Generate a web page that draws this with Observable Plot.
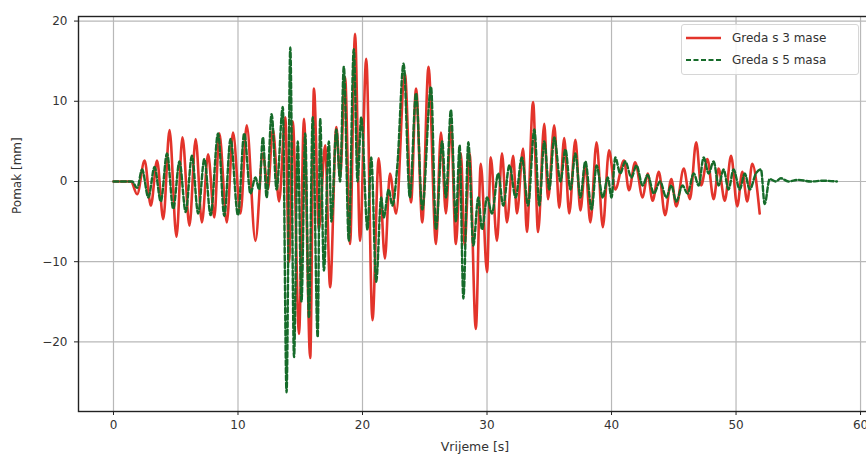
<!DOCTYPE html>
<html><head><meta charset="utf-8">
<script src="https://cdn.jsdelivr.net/npm/d3@7"></script>
<script src="https://cdn.jsdelivr.net/npm/@observablehq/plot@0.6"></script>
<style>
body{margin:0;background:#fff;font-family:"DejaVu Sans",sans-serif;}
#wrap{position:relative;width:866px;height:459px;overflow:hidden;}
.legend{position:absolute;left:681px;top:24px;width:178px;height:51px;border:1px solid #d6d6d6;border-radius:3px;background:rgba(255,255,255,0.85);font-size:12px;color:#333;box-sizing:border-box;}
.legend .row{position:absolute;left:4px;height:16px;display:flex;align-items:center;}
.legend .row span{margin-left:11px;white-space:nowrap;}
</style></head><body><div id="wrap"></div>
<script>
const seriesNames = ["Greda s 3 mase", "Greda s 5 masa"];
const xTicks = [0, 10, 20, 30, 40, 50, 60];
const yTicks = [-20, -10, 0, 10, 20];
const xLabel = "Vrijeme [s]";
const yLabel = "Pomak [mm]";

// Greda s 3 mase (extrema)
const redT = [0,1.4,1.9,2.5,3.0,3.5,4.0,4.5,5.06,5.54,6.1,6.6,7.1,7.6,8.1,8.5,9.1,9.6,10.2,10.7,11.4,12.0,12.4,12.8,13.3,13.8,14.1,14.4,14.9,15.3,15.8,16.1,16.5,17.0,17.4,17.9,18.2,18.6,19.0,19.4,19.8,20.3,20.8,21.3,21.8,22.2,22.7,23.4,23.9,24.3,24.8,25.3,25.9,26.3,26.7,27.1,27.5,27.9,28.2,28.6,29.1,29.5,30.0,30.3,30.8,31.2,31.6,32.1,32.4,32.9,33.2,33.7,34.1,34.6,34.9,35.4,35.8,36.2,36.6,37.1,37.5,37.9,38.3,38.8,39.3,39.8,40.3,41.0,41.4,41.9,42.5,42.9,43.3,43.8,44.3,44.8,45.2,45.8,46.3,46.8,47.2,47.7,48.2,48.6,49.1,49.6,50.1,50.5,50.9,51.3,51.9];
const redY = [0,0,-1.6,2.6,-3.0,2.6,-4.7,6.4,-6.9,5.5,-5.5,5.3,-5.1,3.4,-4.5,6.0,-5.1,6.1,-4.0,7.0,-7.4,3.5,-1,6.5,-2.5,8,-10,7.5,-19,7.8,-22,11.6,-6,4.5,-13.2,6.8,0.5,13,-7.8,18.4,-7.4,15.3,-17.3,2.9,-9.6,1,-4,13.5,-2.6,11.6,-5.1,14.3,-7.8,6.1,-4,7,-7.8,3.5,-8,3.5,-18.4,2.2,-11.3,3,-7.4,3.5,-5.1,3.2,-4,4.1,-6.3,9.9,-6.3,7.2,-2.2,7,-3.3,5.4,-4,5.2,-3.6,2,-5.1,4.9,-5.7,3.9,-1,2.6,-1.1,2.4,-2,1,-2.4,1.2,-4.2,0.3,-3.1,1.6,-2.2,4.9,-0.5,2.8,-2.2,1.6,-2.4,3.2,-3.1,1.2,-2.5,2.2,-4.0];

// Greda s 5 masa
const greenT = [0,1.5,1.9,2.3,2.8,3.3,3.8,4.3,4.8,5.3,5.8,6.3,6.8,7.3,7.8,8.4,8.9,9.4,10.0,10.5,11.0,11.4,11.7,12.0,12.3,12.7,13.1,13.6,13.9,14.2,14.5,14.8,15.1,15.4,15.7,16.0,16.4,16.6,16.9,17.3,17.5,17.9,18.2,18.5,18.9,19.3,19.6,19.9,20.4,20.7,21.1,21.5,21.7,22.1,22.4,22.8,23.3,23.8,24.3,24.8,25.5,25.9,26.4,26.7,27.1,27.5,27.8,28.1,28.5,28.9,29.3,29.6,30.0,30.4,30.9,31.3,31.8,32.3,32.8,33.3,33.8,34.2,34.6,35.0,35.4,35.9,36.3,36.7,37.1,37.5,37.9,38.4,38.8,39.3,39.7,40.0,40.3,40.7,41.1,41.6,42.0,42.5,42.9,43.4,43.9,44.4,44.8,45.2,45.7,46.1,46.6,47.0,47.4,47.8,48.2,48.6,49.0,49.4,49.8,50.3,50.7,51.1,51.6,52.0,52.3,52.7,53.2,53.6,54.2,55,56,57,58.1];
const greenY = [0,0,-0.8,1.5,-2,1.8,-2.5,3.5,-3.4,2.5,-3.8,3.2,-4,2.8,-4.2,6,-4.3,5.3,-4.2,6,-1.5,0.5,-1,5.5,-2,8.4,-1,9.3,-26.3,16.7,-21.9,5,-15,6,-17,8,-19.4,7.8,-11.1,5,-5,6.5,0,14.3,-7.4,16.5,0,8,-6,3,-12.5,-2,-4.5,-1,-3,2,14.7,-2,11,-3.5,11.8,-6,5,-2,8.9,-5,4.5,-14.6,4.9,-8,-2,-6,-2,-4,1,-3,2,-2,3,-3,6.5,-3,5,-1,5.5,0,4,-1,3.5,-2,2.5,-3.5,2,-2,0.5,-2,3,1,2.5,0.5,2,-0.5,0.8,-1.5,0,-2,-0.5,-2.5,-0.5,-1.5,1,-0.5,3,1,2.5,-0.5,1.5,-1,1.5,-1,1,-1,1,1.5,-2.8,0.3,0,0.4,0,0.2,0,0.1,0];

const red = redT.map((t, i) => ({t, y: redY[i]}));
const green = greenT.map((t, i) => ({t, y: greenY[i]}));

const fmt = v => (v < 0 ? "\u2212" + Math.abs(v) : String(v));

const chart = Plot.plot({
  width: 866,
  height: 459,
  marginLeft: 78,
  marginRight: -5,
  marginTop: 16,
  marginBottom: 48,
  style: {fontSize: "12px", fontFamily: "DejaVu Sans, sans-serif", color: "#333", background: "#fff"},
  x: {domain: [-2.81, 60.88]},
  y: {domain: [-28.68, 20.57]},
  marks: [
    Plot.gridX(xTicks, {stroke: "#b8b8b8", strokeOpacity: 1, strokeWidth: 1.2}),
    Plot.gridY(yTicks, {stroke: "#b8b8b8", strokeOpacity: 1, strokeWidth: 1.2}),
    Plot.line(red, {x: "t", y: "y", stroke: "#e3342b", strokeWidth: 2.6, curve: "monotone-x"}),
    Plot.line(green, {x: "t", y: "y", stroke: "#166b2a", strokeWidth: 2.4, strokeDasharray: "5,2.5", curve: "monotone-x"}),
    Plot.frame({stroke: "#222", strokeWidth: 1.4}),
    Plot.axisX({ticks: xTicks, tickSize: 4, tickPadding: 5, tickFormat: fmt, label: null, stroke: "#222"}),
    Plot.axisY({ticks: yTicks, tickSize: 4, tickPadding: 7, tickFormat: fmt, label: null, stroke: "#222"}),
    Plot.text([xLabel], {frameAnchor: "bottom", dy: 39, text: d => d, fontSize: 12.5, fill: "#333"}),
    Plot.text([yLabel], {frameAnchor: "left", dx: -61, rotate: -90, text: d => d, fontSize: 12, fill: "#333"})
  ]
});
const wrap = document.getElementById("wrap");
wrap.appendChild(chart);

const legend = document.createElement("div");
legend.className = "legend";
const styles = [
  {stroke: "#e3342b", dash: "", w: 2.4},
  {stroke: "#166b2a", dash: "5,2.5", w: 2.2}
];
seriesNames.forEach((name, i) => {
  const row = document.createElement("div");
  row.className = "row";
  row.style.top = (5 + i * 22) + "px";
  row.innerHTML = `<svg width="35" height="6"><line x1="0" y1="3" x2="35" y2="3" stroke="${styles[i].stroke}" stroke-width="${styles[i].w}" ${styles[i].dash ? `stroke-dasharray="${styles[i].dash}"` : ""}/></svg><span>${name}</span>`;
  legend.appendChild(row);
});
wrap.appendChild(legend);
</script>
</body></html>
